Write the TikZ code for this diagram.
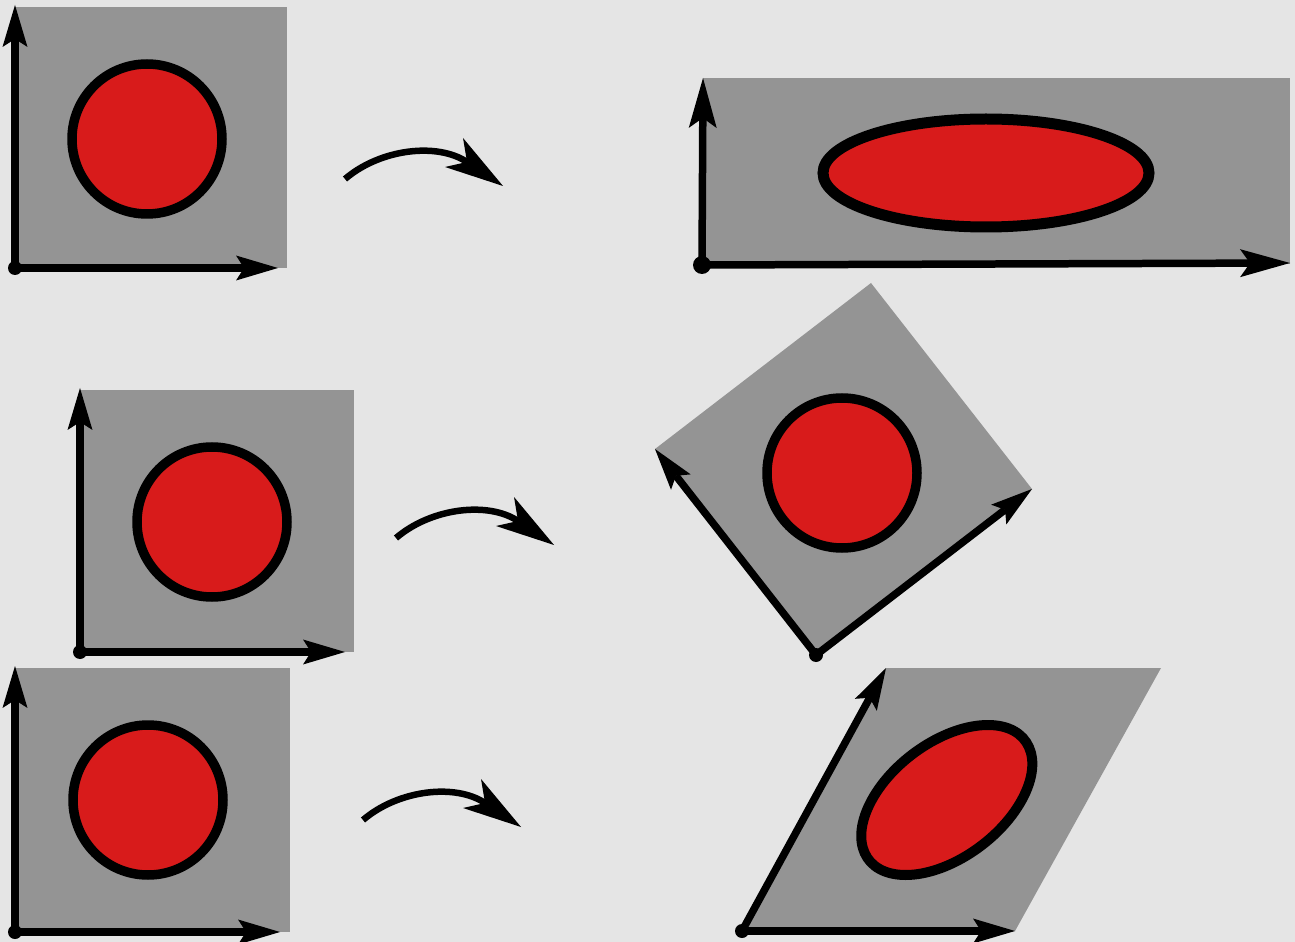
\documentclass[tikz,border=0pt]{standalone}
\usetikzlibrary{arrows.meta}
\definecolor{bg}{HTML}{E5E5E5}
\definecolor{panel}{HTML}{949494}
\definecolor{disk}{HTML}{D81B1B}
\begin{document}
\begin{tikzpicture}[x=0.02cm,y=-0.02cm,
  axis/.style={line width=0.15cm,-{Stealth[length=0.84cm,width=0.5cm,inset=0.16cm,line width=0pt]}},
  bigaxis/.style={line width=0.15cm,-{Stealth[length=1cm,width=0.56cm,inset=0.2cm,line width=0pt]}},
  ring/.style={draw=black,line width=0.19cm,fill=disk},
  dot/.style={fill=black},
  bendarrow/.pic={
    \draw[line width=0.13cm] (0,0) .. controls (35,-30) and (92,-37) .. (122,-17);
    \fill (158,7) -- (118,-41) -- (122,-17) -- (100,-12) -- cycle;
  }]
\fill[bg] (0,0) rectangle (1295,942);
\useasboundingbox (0,0) rectangle (1295,942);

% panel 1
\coordinate (o1) at (15,268);
\coordinate (x1) at (278,268);
\coordinate (y1) at (15,5);
\fill[panel] (15,7) rectangle (287,268);
\path[ring] (147,139) circle[radius=75];
\draw[axis] (o1) -- (x1);
\draw[axis] (o1) -- (y1);
\fill[dot] (o1) circle[radius=7];

% panel 2
\coordinate (o2) at (702,265);
\coordinate (x2) at (1290,263);
\coordinate (y2) at (703,78);
\fill[panel] (703,78) rectangle (1290,264);
\path[ring,line width=0.22cm] (986,173) ellipse[x radius=163,y radius=54];
\draw[bigaxis] (o2) -- (x2);
\draw[bigaxis] (o2) -- (y2);
\fill[dot] (o2) circle[radius=9];

% panel 3
\coordinate (o3) at (80,652);
\coordinate (x3) at (345,652);
\coordinate (y3) at (80,388);
\fill[panel] (80,390) rectangle (354,652);
\path[ring] (212,522) circle[radius=75];
\draw[axis] (o3) -- (x3);
\draw[axis] (o3) -- (y3);
\fill[dot] (o3) circle[radius=7];

% panel 4 (rotated)
\coordinate (o4) at (816,655);
\coordinate (x4) at (1032,489);
\coordinate (y4) at (655,449);
\fill[panel] (o4) -- (x4) -- (871,283) -- (y4) -- cycle;
\path[ring] (842,473) circle[radius=75];
\draw[axis] (o4) -- (x4);
\draw[axis] (o4) -- (y4);
\fill[dot] (o4) circle[radius=7];

% panel 5
\coordinate (o5) at (15,932);
\coordinate (x5) at (280,932);
\coordinate (y5) at (15,666);
\fill[panel] (15,668) rectangle (290,932);
\path[ring] (148,800) circle[radius=75];
\draw[axis] (o5) -- (x5);
\draw[axis] (o5) -- (y5);
\fill[dot] (o5) circle[radius=7];

% panel 6 (sheared)
\coordinate (o6) at (742,931);
\coordinate (x6) at (1015,931);
\coordinate (y6) at (886,668);
\fill[panel] (o6) -- (x6) -- (1161,668) -- (y6) -- cycle;
\begin{scope}[shift={(742,931)},xslant=0.548]
  \path[ring,line width=0.2cm] (133,-131) circle[radius=75];
\end{scope}
\draw[axis] (o6) -- (x6);
\draw[axis] (o6) -- (y6);
\fill[dot] (o6) circle[radius=7];

% curved arrows
\pic at (345,179) {bendarrow};
\pic at (396,538) {bendarrow};
\pic at (363,820) {bendarrow};
\end{tikzpicture}
\end{document}
